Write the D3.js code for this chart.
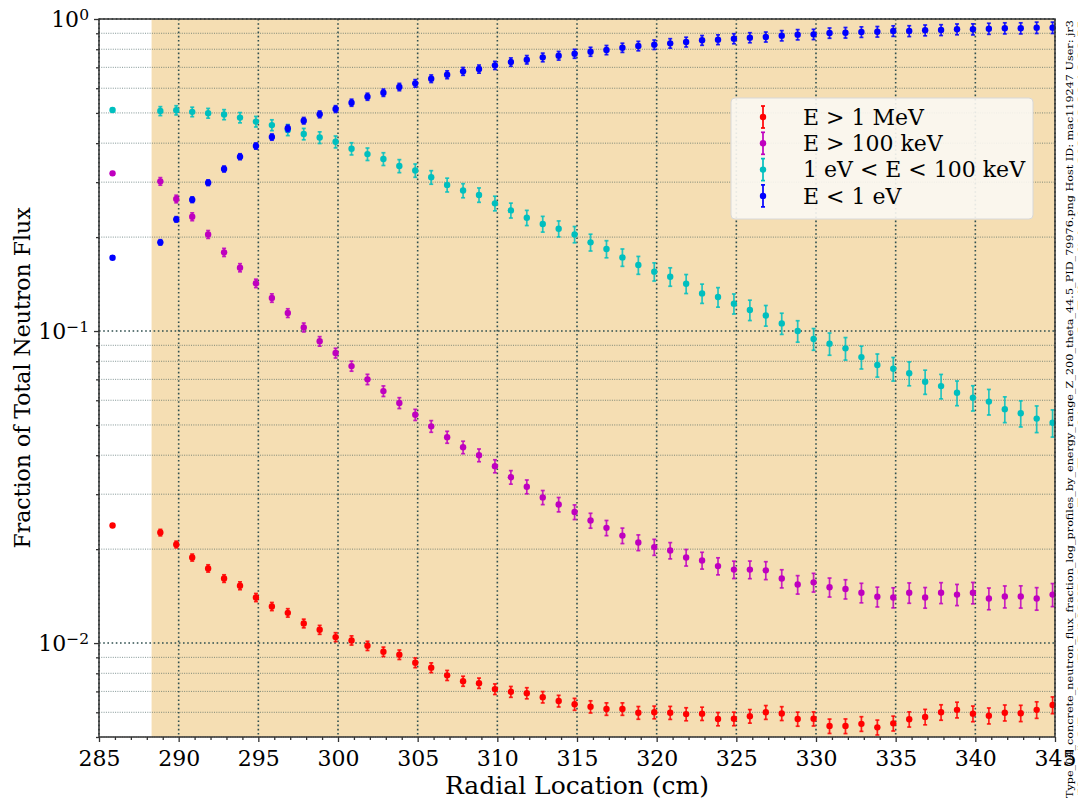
<!DOCTYPE html>
<html><head><meta charset="utf-8">
<script src="https://cdn.jsdelivr.net/npm/d3@7"></script>
<style>body{margin:0;background:#fff}svg{display:block}svg text{font-family:"DejaVu Serif",serif !important}</style>
</head><body><svg id="c" width="1078" height="800" font-family="DejaVu Serif"></svg>
<script>
// ---- data ----
const radial = [285.85,288.85,289.85,290.85,291.85,292.85,293.85,294.85,295.85,296.85,297.85,298.85,299.85,300.85,301.85,302.85,303.85,304.85,305.85,306.85,307.85,308.85,309.85,310.85,311.85,312.85,313.85,314.85,315.85,316.85,317.85,318.85,319.85,320.85,321.85,322.85,323.85,324.85,325.85,326.85,327.85,328.85,329.85,330.85,331.85,332.85,333.85,334.85,335.85,336.85,337.85,338.85,339.85,340.85,341.85,342.85,343.85,344.85];
const seriesNames = ["E > 1 MeV","E > 100 keV","1 eV < E < 100 keV","E < 1 eV"];
const fracHigh = [0.0238,0.0226,0.0207,0.0188,0.01735,0.0161,0.01527,0.0140,0.0131,0.0125,0.01156,0.01103,0.01045,0.0102,0.0098,0.00938,0.00918,0.00865,0.00834,0.00788,0.00755,0.00744,0.00712,0.00698,0.00691,0.00671,0.00652,0.00637,0.00625,0.00615,0.00615,0.00598,0.0060,0.00598,0.00592,0.00594,0.00571,0.00572,0.00583,0.0060,0.00595,0.00571,0.00572,0.00542,0.00542,0.00551,0.00537,0.00553,0.0057,0.0058,0.0060,0.00611,0.00594,0.00585,0.00598,0.00596,0.00611,0.00633];
const fracFast = [0.3202,0.3018,0.265,0.2325,0.204,0.1787,0.1596,0.1422,0.1276,0.1142,0.1027,0.0927,0.085,0.0772,0.070,0.0642,0.0588,0.0539,0.0495,0.0457,0.0424,0.040,0.0369,0.034,0.0317,0.0293,0.0278,0.0263,0.0247,0.0234,0.0221,0.021,0.0203,0.0198,0.0188,0.0184,0.01765,0.0172,0.0172,0.0171,0.0161,0.0154,0.01565,0.0151,0.0149,0.0145,0.01408,0.0140,0.0145,0.0140,0.0145,0.0143,0.0145,0.0139,0.0141,0.0141,0.0139,0.0143];
const fracEpi = [0.511,0.507,0.51,0.504,0.499,0.494,0.483,0.469,0.457,0.441,0.428,0.417,0.404,0.384,0.369,0.356,0.338,0.327,0.311,0.294,0.282,0.273,0.2566,0.2436,0.2307,0.2203,0.2128,0.204,0.1924,0.1832,0.1722,0.1627,0.155,0.1493,0.1418,0.132,0.1285,0.1224,0.1168,0.1122,0.1058,0.100,0.0943,0.0911,0.088,0.0825,0.0778,0.0757,0.0732,0.0688,0.0666,0.0634,0.0611,0.0594,0.0562,0.0545,0.0524,0.0508];
const fracTherm = [0.1718,0.1924,0.228,0.2636,0.2988,0.3306,0.362,0.3917,0.4185,0.4464,0.4722,0.4949,0.5146,0.5393,0.5636,0.5806,0.6055,0.622,0.6438,0.663,0.6796,0.6913,0.7103,0.728,0.7406,0.7534,0.7628,0.774,0.7856,0.7955,0.809,0.8194,0.8275,0.8356,0.8439,0.8544,0.8587,0.865,0.8715,0.876,0.8843,0.8909,0.893,0.9017,0.904,0.9085,0.9106,0.9153,0.915,0.920,0.922,0.927,0.927,0.931,0.934,0.934,0.938,0.938];
// relative errors
const relErrHigh = [0.012,0.024,0.025,0.026,0.027,0.028,0.029,0.03,0.03,0.031,0.032,0.033,0.033,0.034,0.034,0.035,0.035,0.036,0.036,0.037,0.037,0.038,0.039,0.040,0.041,0.042,0.043,0.044,0.045,0.046,0.046,0.047,0.047,0.048,0.048,0.049,0.049,0.050,0.050,0.051,0.051,0.052,0.052,0.053,0.054,0.054,0.055,0.055,0.056,0.057,0.057,0.058,0.058,0.059,0.059,0.060,0.061,0.062];
const relErrFast = [0.012,0.028,0.028,0.029,0.029,0.03,0.03,0.031,0.031,0.032,0.033,0.035,0.036,0.037,0.038,0.039,0.040,0.041,0.043,0.044,0.046,0.047,0.048,0.050,0.051,0.052,0.053,0.054,0.055,0.056,0.057,0.058,0.059,0.060,0.061,0.062,0.063,0.064,0.065,0.066,0.067,0.068,0.069,0.070,0.071,0.072,0.073,0.074,0.075,0.076,0.077,0.078,0.079,0.080,0.081,0.082,0.083,0.085];
const relErrEpi = [0.012,0.033,0.034,0.035,0.036,0.037,0.038,0.039,0.040,0.041,0.042,0.043,0.044,0.045,0.046,0.047,0.048,0.049,0.050,0.051,0.052,0.053,0.054,0.055,0.056,0.058,0.059,0.060,0.062,0.063,0.064,0.066,0.067,0.068,0.070,0.071,0.072,0.074,0.075,0.076,0.078,0.079,0.080,0.082,0.083,0.084,0.085,0.087,0.088,0.089,0.090,0.091,0.093,0.094,0.095,0.096,0.098,0.100];
const relErrTherm = [0.008,0.02,0.02,0.021,0.021,0.022,0.022,0.023,0.023,0.024,0.024,0.025,0.025,0.026,0.026,0.027,0.027,0.028,0.028,0.029,0.029,0.030,0.030,0.031,0.031,0.032,0.032,0.033,0.033,0.034,0.034,0.035,0.035,0.035,0.036,0.036,0.036,0.037,0.037,0.037,0.038,0.038,0.038,0.038,0.039,0.039,0.039,0.039,0.040,0.040,0.040,0.040,0.041,0.041,0.041,0.041,0.042,0.042];
const seriesColors = ["#ff0000","#bf00bf","#00bfbf","#0000ff"];
const xTicks = [285,290,295,300,305,310,315,320,325,330,335,340,345];
const yMajorTicks = [0.01,0.1,1];
const yMinorTicks = [0.005,0.006,0.007,0.008,0.009,0.02,0.03,0.04,0.05,0.06,0.07,0.08,0.09,0.2,0.3,0.4,0.5,0.6,0.7,0.8,0.9];
const shadeStart = 288.3;
const footer1 = "Type_04_concrete_neutron_flux_fraction_log_profiles_by_energy_range_Z_200_theta_44.5_PID_79976.png   Host ID: mac119247   User: jr3";
const footer2 = "/Users/jr3/Dropbox/PhD/MCNP/Concrete_Tests/Type_04_concrete_fluxTally_radial_plots.py   2020-02-28 16:26:55";

// ---- chart ----
const FONT = "DejaVu Serif";
const svg = d3.select("#c");
const L=99,R=1055,T=19,B=737;
const x = d3.scaleLinear().domain([285,345]).range([L,R]);
const y = d3.scaleLog().domain([0.005,1]).range([B,T]);
const gridCol = "#2f4f4f";

svg.append("rect").attr("x",L).attr("y",T).attr("width",R-L).attr("height",B-T).attr("fill","#fff");
svg.append("rect").attr("x",x(shadeStart)).attr("y",T).attr("width",x(345)-x(shadeStart)).attr("height",B-T).attr("fill","#f5deb3");

// minor grid
svg.append("g").selectAll("line").data(yMinorTicks).join("line")
  .attr("x1",L).attr("x2",R).attr("y1",d=>y(d)).attr("y2",d=>y(d))
  .attr("stroke",gridCol).attr("stroke-opacity",0.6).attr("stroke-width",1).attr("stroke-dasharray","1,1.3");
// major grid
svg.append("g").selectAll("line").data(yMajorTicks).join("line")
  .attr("x1",L).attr("x2",R).attr("y1",d=>y(d)).attr("y2",d=>y(d))
  .attr("stroke",gridCol).attr("stroke-width",1.6).attr("stroke-dasharray","1.6,2.6");
svg.append("g").selectAll("line").data(xTicks).join("line")
  .attr("x1",d=>x(d)).attr("x2",d=>x(d)).attr("y1",T).attr("y2",B)
  .attr("stroke",gridCol).attr("stroke-width",1.6).attr("stroke-dasharray","1.6,2.6");

// data
const series = [
  {vals:fracHigh, err:relErrHigh},
  {vals:fracFast, err:relErrFast},
  {vals:fracEpi, err:relErrEpi},
  {vals:fracTherm, err:relErrTherm}
];
series.forEach((s,k)=>{
  const col = seriesColors[k];
  const pts = radial.map((r,i)=>({r, v:s.vals[i], e:s.vals[i]*s.err[i]}));
  const g = svg.append("g");
  const eg = g.append("g").attr("stroke",col).attr("stroke-width",1.7).attr("stroke-opacity",0.85);
  eg.selectAll("line.v").data(pts).join("line").attr("class","v")
    .attr("x1",d=>x(d.r)).attr("x2",d=>x(d.r)).attr("y1",d=>y(d.v+d.e)).attr("y2",d=>y(d.v-d.e));
  eg.selectAll("line.t").data(pts).join("line").attr("class","t")
    .attr("x1",d=>x(d.r)-2).attr("x2",d=>x(d.r)+2).attr("y1",d=>y(d.v+d.e)).attr("y2",d=>y(d.v+d.e));
  eg.selectAll("line.b").data(pts).join("line").attr("class","b")
    .attr("x1",d=>x(d.r)-2).attr("x2",d=>x(d.r)+2).attr("y1",d=>y(d.v-d.e)).attr("y2",d=>y(d.v-d.e));
  g.selectAll("circle").data(pts).join("circle")
    .attr("cx",d=>x(d.r)).attr("cy",d=>y(d.v)).attr("r",3.2).attr("fill",col);
});

// axes
const axCol = "#333";
const xa = svg.append("g").attr("transform",`translate(0,${B})`)
  .call(d3.axisBottom(x).tickValues(xTicks).tickSize(5).tickPadding(8).tickFormat(d3.format("d")));
const xm = svg.append("g").attr("transform",`translate(0,${B})`)
  .call(d3.axisBottom(x).tickValues(d3.range(286,345).filter(v=>v%5!==0)).tickSize(3).tickFormat(""));
const ya = svg.append("g").attr("transform",`translate(${L},0)`)
  .call(d3.axisLeft(y).tickValues(yMajorTicks).tickSize(5).tickPadding(6).tickFormat(""));
const ym = svg.append("g").attr("transform",`translate(${L},0)`)
  .call(d3.axisLeft(y).tickValues(yMinorTicks).tickSize(3).tickFormat(""));
[xa,xm,ya,ym].forEach(a=>{a.attr("font-family",FONT); a.select(".domain").remove(); a.selectAll("line").attr("stroke",axCol).attr("stroke-width",1.3);});
xa.selectAll("text").attr("font-size",22).attr("fill","#000").attr("font-family",FONT);
ya.selectAll(".tick").each(function(d){
  const t = d3.select(this).append("text").attr("x",-10).attr("dy","0.32em").attr("text-anchor","end")
    .attr("font-size",22).attr("fill","#000").attr("font-family",FONT);
  t.append("tspan").text("10");
  t.append("tspan").attr("dy","-0.45em").attr("font-size",15.5).text(Math.round(Math.log10(d))===0?"0":"\u2212"+Math.abs(Math.round(Math.log10(d))));
});
svg.append("rect").attr("x",L).attr("y",T).attr("width",R-L).attr("height",B-T)
  .attr("fill","none").attr("stroke",axCol).attr("stroke-width",1.5);

// titles
svg.append("text").attr("x",(L+R)/2).attr("y",794).attr("text-anchor","middle").attr("font-size",25).attr("font-family",FONT).text("Radial Location (cm)");
svg.append("text").attr("transform",`translate(30,${(T+B)/2}) rotate(-90)`).attr("text-anchor","middle").attr("font-size",22).attr("font-family",FONT).text("Fraction of Total Neutron Flux");

// legend
const lg = svg.append("g").attr("transform","translate(731,98)");
lg.append("rect").attr("width",302).attr("height",121).attr("rx",4).attr("fill","#fbf8f3").attr("fill-opacity",0.9).attr("stroke","#d8d8d8").attr("stroke-width",1);
seriesNames.forEach((n,i)=>{
  const yy = 19 + i*26.3;
  const col = seriesColors[i];
  lg.append("line").attr("x1",32).attr("x2",32).attr("y1",yy-11).attr("y2",yy+11).attr("stroke",col).attr("stroke-width",1.7);
  lg.append("line").attr("x1",30).attr("x2",34).attr("y1",yy-11).attr("y2",yy-11).attr("stroke",col).attr("stroke-width",1.7);
  lg.append("line").attr("x1",30).attr("x2",34).attr("y1",yy+11).attr("y2",yy+11).attr("stroke",col).attr("stroke-width",1.7);
  lg.append("circle").attr("cx",32).attr("cy",yy).attr("r",3.2).attr("fill",col);
  lg.append("text").attr("x",72).attr("y",yy).attr("dy","0.35em").attr("font-size",22).attr("font-family",FONT).text(n);
});

// footer (vertical)
svg.append("text").attr("transform","translate(1072.5,798) rotate(-90)").attr("font-size",9.6).attr("font-family",FONT)
  .attr("textLength",778).attr("lengthAdjust","spacingAndGlyphs").text(footer1);
svg.append("text").attr("transform","translate(1085,798) rotate(-90)").attr("font-size",9.6).attr("font-family",FONT)
  .attr("textLength",778).attr("lengthAdjust","spacingAndGlyphs").text(footer2);
</script></body></html>
